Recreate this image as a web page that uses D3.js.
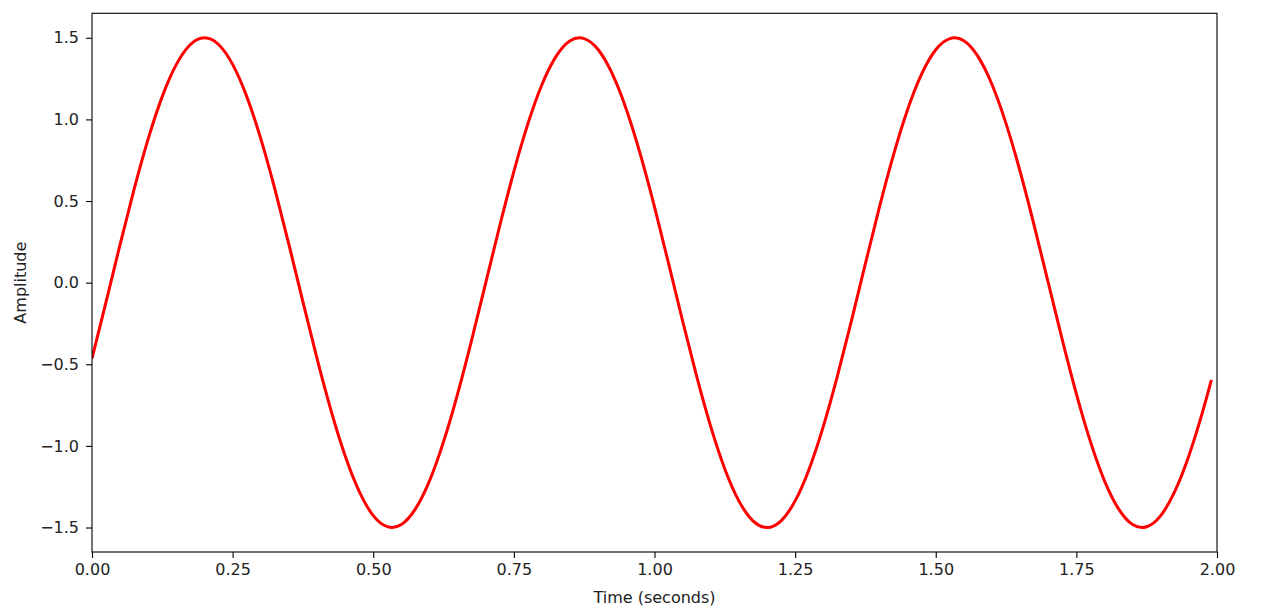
<!DOCTYPE html>
<html>
<head>
<meta charset="utf-8">
<script src="https://cdn.jsdelivr.net/npm/d3@7"></script>
<style>
  body { margin: 0; background: #fff; }
  text { font-family: "DejaVu Sans", sans-serif; }
</style>
</head>
<body>
<div id="chart"></div>
<script>
var width = 1272;
var height = 616;

// values (time in seconds, amplitude)
var times = [0, 0.025, 0.05, 0.075, 0.1, 0.125, 0.15, 0.175, 0.2, 0.225, 0.25, 0.275, 0.3, 0.325, 0.35, 0.375,
  0.4, 0.425, 0.45, 0.475, 0.5, 0.525, 0.55, 0.575, 0.6, 0.625, 0.65, 0.675, 0.7, 0.725, 0.75, 0.775,
  0.8, 0.825, 0.85, 0.875, 0.9, 0.925, 0.95, 0.975, 1.0, 1.025, 1.05, 1.075, 1.1, 1.125, 1.15, 1.175,
  1.2, 1.225, 1.25, 1.275, 1.3, 1.325, 1.35, 1.375, 1.4, 1.425, 1.45, 1.475, 1.5, 1.525, 1.55, 1.575,
  1.6, 1.625, 1.65, 1.675, 1.7, 1.725, 1.75, 1.775, 1.8, 1.825, 1.85, 1.875, 1.9, 1.925, 1.95, 1.975, 1.99];
var amplitude = [-0.464, -0.118, 0.235, 0.574, 0.882, 1.141, 1.337, 1.459, 1.5, 1.459, 1.337, 1.141, 0.882, 0.574, 0.235, -0.118,
  -0.464, -0.784, -1.061, -1.279, -1.427, -1.495, -1.482, -1.386, -1.214, -0.974, -0.681, -0.350, 0, 0.350, 0.681, 0.974,
  1.214, 1.386, 1.482, 1.495, 1.427, 1.279, 1.061, 0.784, 0.464, 0.118, -0.235, -0.574, -0.882, -1.141, -1.337, -1.459,
  -1.5, -1.459, -1.337, -1.141, -0.882, -0.574, -0.235, 0.118, 0.464, 0.784, 1.061, 1.279, 1.427, 1.495, 1.482, 1.386,
  1.214, 0.974, 0.681, 0.350, 0, -0.350, -0.681, -0.974, -1.214, -1.386, -1.482, -1.495, -1.427, -1.279, -1.061, -0.784, -0.596];
var xTicks = [0, 0.25, 0.5, 0.75, 1.0, 1.25, 1.5, 1.75, 2.0];
var yTicks = [-1.5, -1.0, -0.5, 0.0, 0.5, 1.0, 1.5];

var data = times.map(function (t, i) { return { t: t, y: amplitude[i] }; });

// axes box
var plotLeft = 92, plotRight = 1217, plotTop = 13.3, plotBottom = 552;

var xScale = d3.scaleLinear().domain([0, 2]).range([plotLeft, plotRight]);
var yScale = d3.scaleLinear().domain([-1.65, 1.65]).range([plotBottom, plotTop]);

var svg = d3.select("#chart").append("svg")
  .attr("width", width)
  .attr("height", height);

// minus sign like matplotlib
function fmt(n) { return n.replace("-", "\u2212"); }

var xAxis = d3.axisBottom(xScale).tickValues(xTicks)
  .tickFormat(function (d) { return fmt(d3.format(".2f")(d)); })
  .tickSizeInner(6).tickSizeOuter(0).tickPadding(6);
var yAxis = d3.axisLeft(yScale).tickValues(yTicks)
  .tickFormat(function (d) { return fmt(d3.format(".1f")(d)); })
  .tickSizeInner(6).tickSizeOuter(0).tickPadding(7);

var gx = svg.append("g")
  .attr("transform", "translate(0," + plotBottom + ")")
  .call(xAxis);
var gy = svg.append("g")
  .attr("transform", "translate(" + plotLeft + ",0)")
  .call(yAxis);

[gx, gy].forEach(function (g) {
  g.select(".domain").remove();
  g.selectAll("line").attr("stroke", "#000").attr("stroke-width", 1.1);
  g.selectAll("text").attr("fill", "#222").style("font-size", "16px");
});

// the line, clipped to the axes box
svg.append("defs").append("clipPath").attr("id", "clip")
  .append("rect")
  .attr("x", plotLeft).attr("y", plotTop)
  .attr("width", plotRight - plotLeft).attr("height", plotBottom - plotTop);

var line = d3.line()
  .x(function (d) { return xScale(d.t); })
  .y(function (d) { return yScale(d.y); })
  .curve(d3.curveNatural);

svg.append("path")
  .datum(data)
  .attr("clip-path", "url(#clip)")
  .attr("fill", "none")
  .attr("stroke", "#f00")
  .attr("stroke-width", 3)
  .attr("stroke-linejoin", "round")
  .attr("d", line);

// axes frame
svg.append("rect")
  .attr("x", plotLeft).attr("y", plotTop)
  .attr("width", plotRight - plotLeft).attr("height", plotBottom - plotTop)
  .attr("fill", "none")
  .attr("stroke", "#000")
  .attr("stroke-width", 1.1);

svg.append("text")
  .attr("x", (plotLeft + plotRight) / 2)
  .attr("y", 603)
  .attr("text-anchor", "middle")
  .attr("fill", "#222")
  .style("font-size", "16px")
  .text("Time (seconds)");

svg.append("text")
  .attr("transform", "translate(26," + (plotTop + plotBottom) / 2 + ") rotate(-90)")
  .attr("text-anchor", "middle")
  .attr("fill", "#222")
  .style("font-size", "16px")
  .text("Amplitude");
</script>
</body>
</html>
